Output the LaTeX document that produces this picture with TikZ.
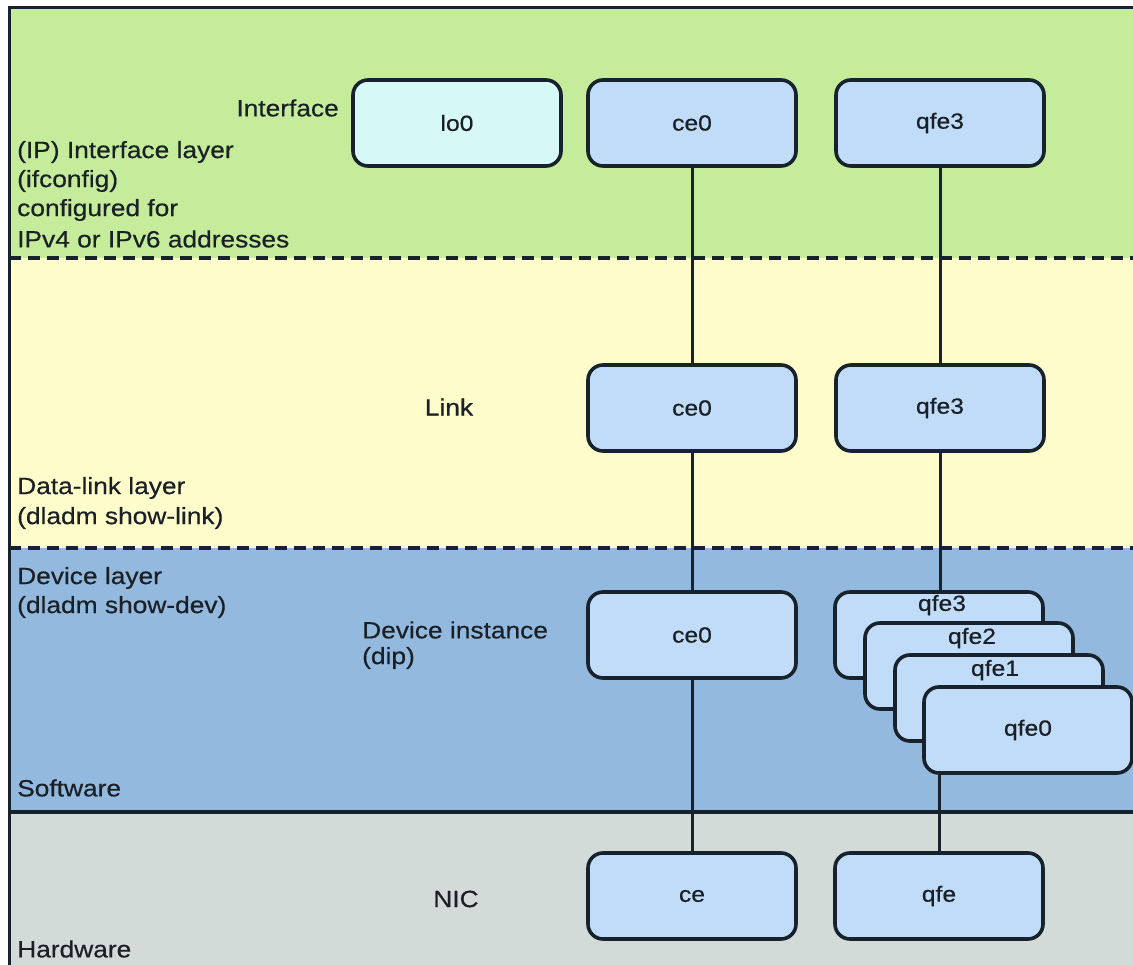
\documentclass[tikz,border=0pt]{standalone}
\usepackage{fontspec}
\setmainfont{Liberation Sans}[FakeStretch=1.12,FakeBold=0.5]
\usetikzlibrary{calc}
\definecolor{bgreen}{RGB}{197,236,154}
\definecolor{byellow}{RGB}{254,252,202}
\definecolor{bblue}{RGB}{148,185,222}
\definecolor{bgray}{RGB}{211,219,217}
\definecolor{boxfill}{RGB}{192,220,248}
\definecolor{lofill}{RGB}{214,248,246}
\definecolor{edge}{RGB}{24,34,44}
\definecolor{ink}{RGB}{26,32,38}
\tikzset{
  box/.style={draw=edge, line width=3.6pt, rounded corners=15pt, fill=boxfill,
    minimum width=208pt, minimum height=86pt, inner sep=0pt,
    font=\fontsize{22}{26}\selectfont, text=ink},
  sidelbl/.style={font=\fontsize{23.5}{29}\selectfont, text=ink, inner sep=0pt},
  boxlbl/.style={font=\fontsize{22}{26}\selectfont, text=ink, inner sep=0pt},
  conn/.style={draw=edge, line width=3pt},
  sep/.style={draw=edge, line width=4pt, dash pattern=on 12pt off 7pt},
}
\begin{document}
\begin{tikzpicture}[x=1pt,y=-1pt]
\useasboundingbox (0,0) rectangle (1133,965);
% bands
\fill[white] (0,0) rectangle (1133,965);
\fill[bgreen] (9,8) rectangle (1133,258);
\fill[byellow] (9,258) rectangle (1133,548);
\fill[bblue] (9,548) rectangle (1133,812);
\fill[bgray] (9,812) rectangle (1133,965);
% frame
\draw[draw=edge, line width=3pt] (1133,8) -- (9,8) -- (9,965);
\draw[sep] (9,258) -- (1133,258);
\draw[sep] (9,548) -- (1133,548);
\draw[draw=edge, line width=3.5pt] (9,812) -- (1133,812);
% side labels
\node[sidelbl, anchor=east] (tInterface) at (339,108) {Interface};
\node[sidelbl, anchor=west] (tIP1) at (17,152) {(IP) Interface layer};
\node[sidelbl, anchor=west] (tIP2) at (17,181) {(ifconfig)};
\node[sidelbl, anchor=west] (tIP3) at (17,210) {configured for};
\node[sidelbl, anchor=west] (tIP4) at (17,239) {IPv4 or IPv6 addresses};
\node[sidelbl] (tLink) at (449,407) {Link};
\node[sidelbl, anchor=west] (tDL1) at (17,488) {Data-link layer};
\node[sidelbl, anchor=west] (tDL2) at (17,518) {(dladm show-link)};
\node[sidelbl, anchor=west] (tDv1) at (17,578) {Device layer};
\node[sidelbl, anchor=west] (tDv2) at (17,607) {(dladm show-dev)};
\node[sidelbl, anchor=west] (tDI1) at (362,630) {Device instance};
\node[sidelbl, anchor=west] (tDI2) at (362,658) {(dip)};
\node[sidelbl, anchor=west] (tSW) at (17,788) {Software};
\node[sidelbl] (tNIC) at (456,899) {NIC};
\node[sidelbl, anchor=west] (tHW) at (17,949) {Hardware};
% boxes
\node[box, fill=lofill] (ilo0) at (457,123) {lo0};
\node[box] (ice0) at (692,123) {ce0};
\node[box] (iqfe3) at (940,123) {qfe3};
\node[box] (lce0) at (692,408) {ce0};
\node[box] (lqfe3) at (940,408) {qfe3};
\node[box] (dce0) at (692,635) {ce0};
\node[box] (dqfe3) at (939,635) {};
\node[boxlbl] (dqfe3t) at ($(dqfe3.north)+(3,15)$) {qfe3};
\node[box] (dqfe2) at (969,666) {};
\node[boxlbl] (dqfe2t) at ($(dqfe2.north)+(3,17)$) {qfe2};
\node[box] (dqfe1) at (999,698) {};
\node[boxlbl] (dqfe1t) at ($(dqfe1.north)+(-4,17)$) {qfe1};
\node[box] (dqfe0) at (1028,730) {qfe0};
\node[box] (nce) at (692,896) {ce};
\node[box] (nqfe) at (939,896) {qfe};
% connectors
\draw[conn] (ice0.south) -- (lce0.north);
\draw[conn] (lce0.south) -- (dce0.north);
\draw[conn] (dce0.south) -- (nce.north);
\draw[conn] (iqfe3.south) -- (lqfe3.north);
\draw[conn] (lqfe3.south) -- (lqfe3.south |- dqfe3.north);
\draw[conn] (nqfe.north |- dqfe0.south) -- (nqfe.north);
\end{tikzpicture}
\end{document}
